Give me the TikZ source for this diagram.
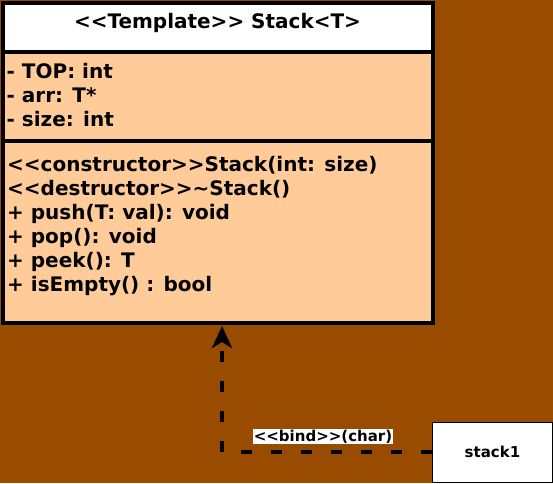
\documentclass[tikz,border=0pt]{standalone}
\usepackage{fontspec}
\setmainfont{DejaVu Sans}[Ligatures=TeXOff]
\usetikzlibrary{arrows.meta}
\definecolor{bgbrown}{HTML}{994C00}
\definecolor{classfill}{HTML}{FFCC99}

\begin{document}
\begin{tikzpicture}[x=1pt,y=-1pt,
    compart/.style={draw,line width=4pt,inner sep=0pt,outer sep=0pt,anchor=north west,minimum width=430pt},
    members/.style={anchor=base west,align=left,inner sep=0pt,font=\fontsize{20}{24}\bfseries\selectfont},
    bindline/.style={line width=4pt,dash pattern=on 11pt off 19pt,-{Stealth[length=22pt,width=20pt,inset=6pt]}}]
  \fill[bgbrown] (0,0) rectangle (553,483);
  \useasboundingbox (0,0) rectangle (553,483);
  % class box
  \node[compart,fill=white,minimum height=49.5pt] (title) at (2.5,2.5) {};
  \node[compart,fill=classfill,minimum height=88.5pt] (attrs) at (2.5,52) {};
  \node[compart,fill=classfill,minimum height=182pt] (methods) at (2.5,140.5) {};
  \node[anchor=base,inner sep=0pt,font=\fontsize{20}{24}\bfseries\selectfont] (titletxt) at (217.5,28.5) {<<Template>> Stack<T>};
  % base of a multi-line node = last line
  \node[members] (attrtxt) at (6.5,126) {- TOP: int\\- arr: T*\\- size: int};
  \node[members] (methtxt) at (7,291) {<<constructor>>Stack(int: size)\\<<destructor>>\textasciitilde Stack()\\+ push(T: val): void\\+ pop(): void\\+ peek(): T\\+ isEmpty() : bool};
  % instance and binding
  \node[draw,fill=white,line width=1pt,minimum width=120pt,minimum height=60pt,font=\fontsize{15}{18}\bfseries\selectfont] (stack1) at (492.5,452) {stack1};
  \coordinate (bindend) at (222,326);
  \draw[bindline] (stack1.west) -| (bindend);
  \node[fill=white,inner sep=1pt,font=\fontsize{15}{18}\bfseries\selectfont] (bindlbl) at (323,436.5) {<<bind>>(char)};
\end{tikzpicture}
\end{document}
